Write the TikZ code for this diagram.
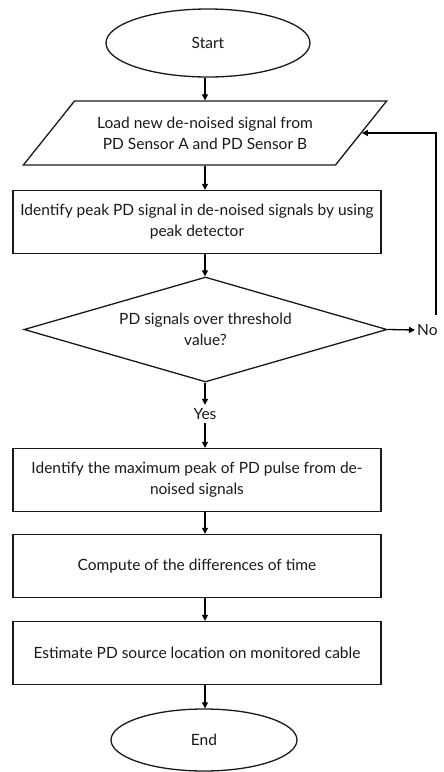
\documentclass[tikz,border=0pt]{standalone}
\usepackage{fontspec}
\setmainfont{Lato}
\usetikzlibrary{shapes.geometric,arrows.meta}
\begin{document}
\begin{tikzpicture}[x=1pt,y=-1pt,
  every node/.style={font=\fontsize{15.5}{21}\selectfont, text=black!90},
  arr/.style={line width=1.3pt,-{Triangle[length=6pt,width=6pt]}},
  shp/.style={draw=black!90, line width=1.3pt, inner sep=0pt, align=center},
  procbox/.style={shp, rectangle, minimum width=368pt, minimum height=63pt},
  term/.style={shp, ellipse},
  iobox/.style={shp, trapezium, trapezium left angle=37.6, trapezium right angle=142.4,
     trapezium stretches=true, minimum width=364pt, minimum height=64pt},
  decbox/.style={shp, diamond, aspect=3.46, minimum width=363pt, minimum height=105pt}]
\fill[white] (0,0) rectangle (444,772);
\useasboundingbox (0,0) rectangle (444,772);
\coordinate (spine) at (205,0);
\node[term, minimum width=204pt, minimum height=68pt] (start) at (208,43) {Start};
\node[iobox] (load) at (205,133) {Load new de-noised signal from\\PD Sensor A and PD Sensor B};
\node[procbox] (peak) at (197,222) {Identify peak PD signal in de-noised signals by using\\peak detector};
\node[decbox] (dec) at (205.5,329.5) {PD signals over threshold\\value?};
\node[inner sep=0pt, minimum height=18pt] (yes) at (205,414) {Yes};
\node[procbox] (maxp) at (197,480) {Identify the maximum peak of PD pulse from de-\\noised signals};
\node[procbox] (comp) at (197,566) {Compute of the differences of time};
\node[procbox] (est) at (197,653) {Estimate PD source location on monitored cable};
\node[term, minimum width=186pt, minimum height=62pt] (end) at (204,740) {End};
\node[anchor=west, inner sep=2pt] (no) at (415,330) {No};
\coordinate (fb) at (436,315);
\draw[arr] (start.south -| spine) -- (load.north -| spine);
\draw[arr] (load.south -| spine) -- (peak.north -| spine);
\draw[arr] (peak.south -| spine) -- (dec.north -| spine);
\draw[arr] (dec.south -| spine) -- (yes.north -| spine);
\draw[arr] (yes.south -| spine) -- (maxp.north -| spine);
\draw[arr] (maxp.south -| spine) -- (comp.north -| spine);
\draw[arr] (comp.south -| spine) -- (est.north -| spine);
\draw[arr] (est.south -| spine) -- (end.north -| spine);
\draw[arr] (dec.east) -- (no.west);
\draw[arr] (fb) |- (load.east);
\end{tikzpicture}
\end{document}
